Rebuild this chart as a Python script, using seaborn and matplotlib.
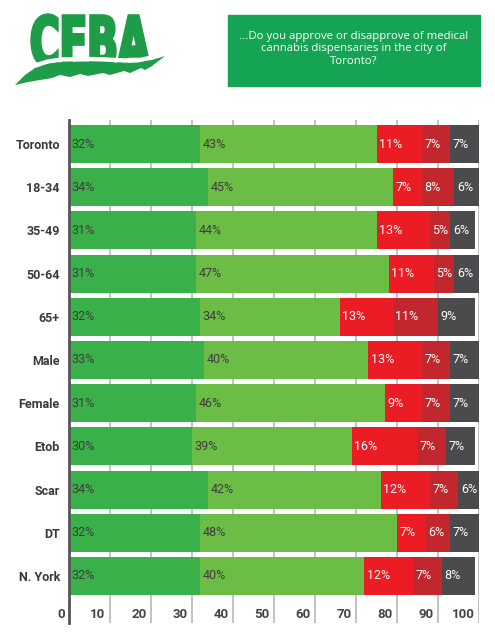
import numpy as np
import pandas as pd
import matplotlib
matplotlib.use("Agg")
import matplotlib.pyplot as plt
import seaborn as sns
from matplotlib.textpath import TextPath
from matplotlib.font_manager import FontProperties
from matplotlib.patches import PathPatch, Rectangle, Polygon
from matplotlib.transforms import Affine2D, ScaledTranslation

# ---------------- data ----------------
categories = ["Toronto", "18-34", "35-49", "50-64", "65+", "Male", "Female",
              "Etob", "Scar", "DT", "N. York"]
strongly_approve = [32, 34, 31, 31, 32, 33, 31, 30, 34, 32, 32]
somewhat_approve = [43, 45, 44, 47, 34, 40, 46, 39, 42, 48, 40]
somewhat_disapprove = [11, 7, 13, 11, 13, 13, 9, 16, 12, 7, 12]
strongly_disapprove = [7, 8, 5, 5, 11, 7, 7, 7, 7, 6, 7]
dont_know = [7, 6, 6, 6, 9, 7, 7, 7, 6, 7, 8]
series_names = ["Strongly approve", "Somewhat approve", "Somewhat disapprove",
                "Strongly disapprove", "Don't know"]
xticks = [0, 10, 20, 30, 40, 50, 60, 70, 80, 90, 100]
title = ("...Do you approve or disapprove of medical\n"
         "cannabis dispensaries in the city of\nToronto?")
logo_text = "CFBA"

colors = ["#3AB04A", "#6CBD45", "#EC1C24", "#C1272D", "#4B4B4D"]
label_colors = ["#3d3d3d", "#3d3d3d", "white", "white", "white"]

sns.set_style("white")
plt.rcParams["font.family"] = ["Roboto", "DejaVu Sans"]

W, H = 495, 640
fig = plt.figure(figsize=(W / 100, H / 100), dpi=100)

# pixel transform (origin top-left)
px = Affine2D().scale(0.01, -0.01).translate(0, H / 100) + fig.dpi_scale_trans

# ---------------- chart ----------------
ax = fig.add_axes([69 / W, 1 - 623 / H, 410 / W, 503 / H])

series = [strongly_approve, somewhat_approve, somewhat_disapprove,
          strongly_disapprove, dont_know]
vals = np.array(series, dtype=float)
cums = np.cumsum(vals, axis=0)
df = pd.DataFrame({"category": categories})
for k, name in enumerate(series_names):
    df[name] = cums[k]

for k in reversed(range(len(series_names))):
    sns.barplot(data=df, x=series_names[k], y="category", orient="h",
                color=colors[k], saturation=1, width=0.88, errorbar=None,
                linewidth=0, ax=ax, zorder=3)

off = ScaledTranslation(2.5 / 100, 0, fig.dpi_scale_trans)
for k in range(len(series_names)):
    for i in range(len(categories)):
        start = cums[k][i] - vals[k][i]
        ax.text(start, i, f"{int(vals[k][i])}%", transform=ax.transData + off,
                ha="left", va="center", fontsize=9, color=label_colors[k],
                zorder=5)

ax.set_xlim(0, 100)
ax.set_ylim(11.09, -0.556)
ax.set_xticks(xticks)
ax.set_xticklabels([])
ax.grid(axis="x", color="#BDBDBD", lw=1.3, zorder=0)
ax.grid(axis="y", visible=False)
ax.set_axisbelow(True)
ax.set_xlabel("")
ax.set_ylabel("")
ax.tick_params(axis="x", length=0)
ax.tick_params(axis="y", length=0, pad=6.5, labelsize=9, labelcolor="#3a3a3a")
for lab in ax.get_yticklabels():
    lab.set_fontweight("bold")
for s in ["top", "right", "bottom"]:
    ax.spines[s].set_visible(False)
ax.spines["left"].set_color("#555555")
ax.spines["left"].set_linewidth(2)
ax.spines["left"].set_zorder(6)

toff = ScaledTranslation(-4.5 / 100, 0, fig.dpi_scale_trans)
for t in xticks:
    ax.text(t, 10.9, str(t), transform=ax.transData + toff, ha="right",
            va="center", fontsize=9.5, fontweight="bold", color="#444444")

# ---------------- header ----------------
fig.patches.append(Rectangle((228, 15), 252, 71, transform=px,
                             color="#14A453", zorder=1))
fig.text(354 / W, 1 - 49 / H, title, ha="center", va="center", color="white",
         fontsize=8.2, family=["Open Sans", "DejaVu Sans"], linespacing=1.2,
         zorder=5)

# logo
green = "#1E9C48"
tp = TextPath((0, 0), logo_text, size=1,
              prop=FontProperties(family="DejaVu Sans", weight="bold",
                                  stretch="condensed"))
ext = tp.get_extents()
x0, y0, x1, y1 = 32, 15, 149, 66
ltr = (Affine2D().translate(-ext.x0, -ext.y0)
       .scale((x1 - x0) / ext.width, -(y1 - y0) / ext.height)
       .translate(x0, y1))
fig.patches.append(PathPatch(tp, transform=ltr + px, facecolor=green,
                             edgecolor=green, lw=2.4, joinstyle="miter",
                             zorder=2))

top_edge = [(15, 85), (25, 75), (35, 68), (48, 64), (62, 62), (85, 61.5),
            (105, 62), (125, 63), (140, 62.5), (152, 60), (165, 56)]
bottom_edge = [(165, 56), (152, 66), (145, 70), (141, 68), (130, 73),
               (124, 71), (110, 75), (103, 73), (88, 76), (80, 74), (70, 77),
               (60, 75), (52, 78), (40, 80), (28, 82), (15, 85)]
# white separation band
wx = [p[0] for p in top_edge]
wy = [p[1] - 2.5 for p in top_edge]
fig.lines.append(plt.Line2D(wx, wy, transform=px, color="white", lw=3.2,
                            zorder=3))
fig.patches.append(Polygon(top_edge + bottom_edge, closed=True, transform=px,
                           color=green, lw=0, zorder=4))

fig.savefig("out.png", dpi=100)
